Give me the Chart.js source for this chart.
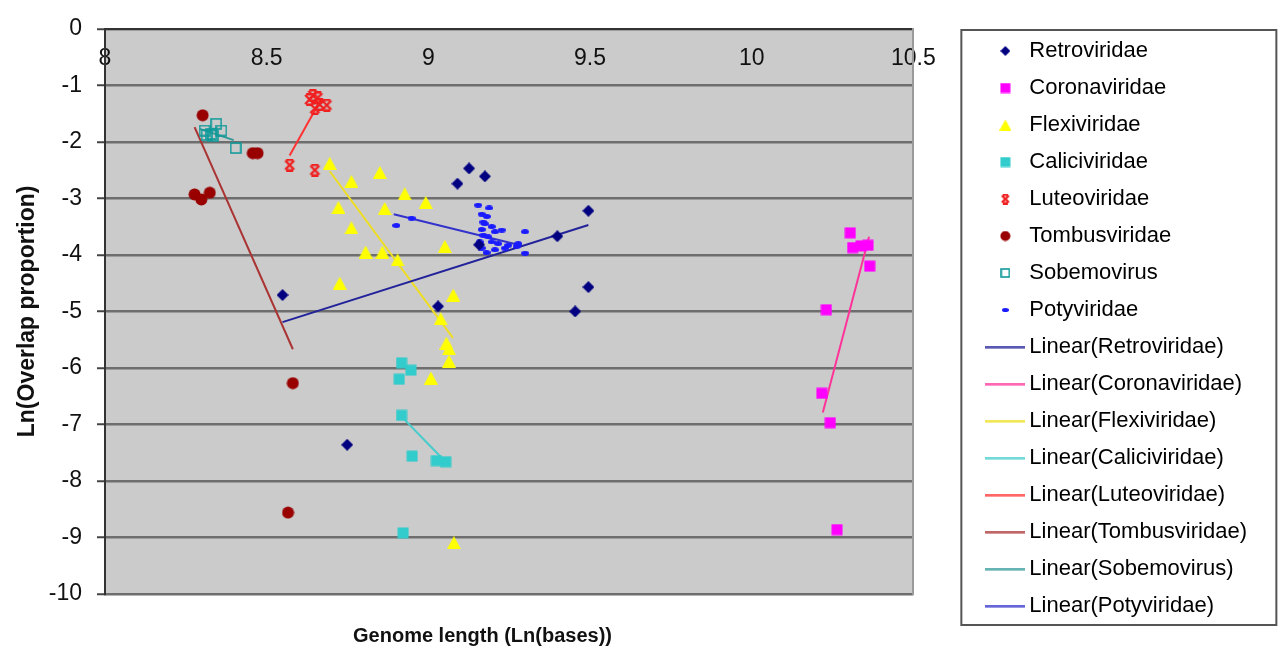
<!DOCTYPE html>
<html>
<head>
<meta charset="utf-8">
<title>Overlap proportion vs genome length</title>
<script src="https://cdn.jsdelivr.net/npm/chart.js@4.4.0/dist/chart.umd.min.js"></script>
<style>
  html, body { margin: 0; padding: 0; background: #fff; }
  #wrap { width: 1278px; height: 652px; }
</style>
</head>
<body>
<div id="wrap"><canvas id="overlapChart" width="1278" height="652"></canvas></div>
<script>
// [Ln(genome length), Ln(overlap proportion)] per virus family
const retroviridae = [[8.549, -4.71], [8.749, -7.36], [9.03, -4.91], [9.09, -2.74], [9.126, -2.47], [9.175, -2.61],
  [9.157, -3.82], [9.399, -3.67], [9.495, -3.22], [9.495, -4.57], [9.454, -5.0]];
const coronaviridae = [[10.305, -3.61], [10.312, -3.87], [10.338, -3.84], [10.36, -3.83], [10.365, -4.2],
  [10.231, -4.97], [10.217, -6.45], [10.243, -6.97], [10.264, -8.86]];
const flexiviridae = [[8.695, -2.38], [8.85, -2.54], [8.762, -2.7], [8.927, -2.92], [8.992, -3.07], [8.722, -3.16],
  [8.865, -3.18], [8.762, -3.52], [9.051, -3.85], [8.806, -3.95], [8.858, -3.95], [8.905, -4.09], [8.726, -4.5],
  [9.077, -4.71], [9.038, -5.13], [9.056, -5.56], [9.064, -5.66], [9.064, -5.88], [9.008, -6.18], [9.079, -9.09]];
const caliciviridae = [[8.917, -5.91], [8.946, -6.04], [8.91, -6.2], [8.917, -6.84], [8.95, -7.56], [9.025, -7.64],
  [9.054, -7.66], [8.922, -8.92]];
const luteoviridae = [[8.571, -2.41], [8.649, -2.5], [8.643, -1.18], [8.658, -1.22], [8.664, -1.34], [8.686, -1.35],
  [8.649, -1.41], [8.633, -1.25]];
const tombusviridae = [[8.302, -1.53], [8.457, -2.2], [8.472, -2.2], [8.277, -2.93], [8.298, -3.02], [8.324, -2.9],
  [8.581, -6.27], [8.566, -8.56]];
const sobemovirus = [[8.308, -1.8], [8.329, -1.86], [8.344, -1.68], [8.36, -1.8], [8.334, -1.89], [8.404, -2.11],
  [8.314, -1.88]];
const potyviridae = [[8.901, -3.48], [8.948, -3.35], [9.154, -3.12], [9.188, -3.17], [9.165, -3.28], [9.181, -3.32],
  [9.17, -3.42], [9.175, -3.45], [9.196, -3.5], [9.165, -3.55], [9.227, -3.56], [9.299, -3.59], [9.206, -3.59],
  [9.17, -3.65], [9.185, -3.68], [9.159, -3.77], [9.196, -3.77], [9.216, -3.8], [9.247, -3.83], [9.273, -3.85],
  [9.18, -3.96], [9.299, -3.97], [9.206, -3.91], [9.237, -3.88], [9.165, -3.88], [9.278, -3.8]];

// linear trend line end points, same family order
const trendRetroviridae = [[8.549, -5.19], [9.495, -3.47]];
const trendCoronaviridae = [[10.22, -6.79], [10.363, -3.68]];
const trendFlexiviridae = [[8.695, -2.52], [9.076, -5.47]];
const trendCaliciviridae = [[8.927, -6.92], [9.041, -7.59]];
const trendLuteoviridae = [[8.571, -2.24], [8.67, -1.23]];
const trendTombusviridae = [[8.277, -1.74], [8.581, -5.67]];
const trendSobemovirus = [[8.293, -1.77], [8.398, -1.97]];
const trendPotyviridae = [[8.893, -3.28], [9.29, -3.84]];

const familyNames = ['Retroviridae', 'Coronaviridae', 'Flexiviridae', 'Caliciviridae',
  'Luteoviridae', 'Tombusviridae', 'Sobemovirus', 'Potyviridae'];
const familyPoints = [retroviridae, coronaviridae, flexiviridae, caliciviridae,
  luteoviridae, tombusviridae, sobemovirus, potyviridae];
const familyTrends = [trendRetroviridae, trendCoronaviridae, trendFlexiviridae, trendCaliciviridae,
  trendLuteoviridae, trendTombusviridae, trendSobemovirus, trendPotyviridae];
const xTicks = { min: 8, max: 10.5, step: 0.5 };
const yTicks = { min: -10, max: 0, step: 1 };

const markerKinds = ['diamond', 'square', 'triangle', 'square', 'star', 'circle', 'openSquare', 'dash'];
const markerColors = ['#000080', '#ff00ff', '#ffff00', '#33cccc', '#f02020', '#990000', '#119999', '#1a1aff'];
const markerSizes = [12, 12, 14, 12, 13, 13, 12, 8];
const legendSizes = [10, 11, 12, 11, 11, 11, 10, 7];
const trendColors = ['#22229a', '#ff3399', '#eedd22', '#44cccc', '#ff3333', '#aa3333', '#339999', '#3333cc'];

const FONT = '"Liberation Sans", Arial, Helvetica, sans-serif';
Chart.defaults.font.family = FONT;
Chart.defaults.color = '#111';

// small canvases used as point styles, so plot and legend share marker shapes
function makeIcon(kind, color, size) {
  const c = document.createElement('canvas');
  let w = size, h = size;
  if (kind === 'dash') { h = Math.round(size * 0.6); }
  if (kind === 'line') { w = 40; h = 3; }
  if (kind === 'triangle') { h = Math.round(size * 0.9); }
  c.width = w; c.height = h;
  const g = c.getContext('2d');
  g.fillStyle = color;
  g.strokeStyle = color;
  g.beginPath();
  switch (kind) {
    case 'diamond':
      g.moveTo(w / 2, 0); g.lineTo(w, h / 2); g.lineTo(w / 2, h); g.lineTo(0, h / 2); g.closePath(); g.fill();
      break;
    case 'square':
      g.fillRect(0.5, 0.5, w - 1, h - 1);
      break;
    case 'triangle':
      g.moveTo(w / 2, 0); g.lineTo(w, h); g.lineTo(0, h); g.closePath(); g.fill();
      break;
    case 'circle':
      g.arc(w / 2, h / 2, w / 2 - 0.5, 0, Math.PI * 2); g.fill();
      break;
    case 'openSquare':
      g.lineWidth = 1.6; g.strokeRect(1, 1, w - 2, h - 2);
      break;
    case 'dash':
      g.ellipse(w / 2, h / 2, w / 2, h / 2, 0, 0, Math.PI * 2); g.fill();
      break;
    case 'star':
      g.lineWidth = 2.4;
      g.moveTo(2, 2); g.lineTo(w - 2, h - 2);
      g.moveTo(w - 2, 2); g.lineTo(2, h - 2);
      g.moveTo(3, 1.2); g.lineTo(w - 3, 1.2);
      g.moveTo(3, h - 1.2); g.lineTo(w - 3, h - 1.2);
      g.stroke();
      break;
    case 'line':
      g.fillRect(0, 0.5, w, 2);
      break;
  }
  return c;
}

const plotIcons = markerKinds.map((k, i) => makeIcon(k, markerColors[i], markerSizes[i]));
const legendIcons = markerKinds.map((k, i) => makeIcon(k, markerColors[i], legendSizes[i]))
  .concat(trendColors.map(c => makeIcon('line', c, 40)));

const toXY = pts => pts.map(([x, y]) => ({ x, y }));

const pointSets = familyNames.map((name, i) => ({
  label: name,
  data: toXY(familyPoints[i]),
  pointStyle: plotIcons[i],
  pointRadius: 6,
  showLine: false,
  xAxisID: 'x',
  yAxisID: 'y'
}));

const trendSets = familyNames.map((name, i) => ({
  label: 'Linear(' + name + ')',
  data: toXY(familyTrends[i]),
  showLine: true,
  borderColor: trendColors[i],
  borderWidth: 2,
  pointRadius: 0,
  xAxisID: 'x',
  yAxisID: 'y'
}));

// grey plot area, legend frame and the x axis title
const chartDecor = {
  id: 'chartDecor',
  beforeDraw(chart) {
    const { ctx, chartArea: a } = chart;
    ctx.save();
    ctx.fillStyle = '#ffffff';
    ctx.fillRect(0, 0, chart.width, chart.height);
    ctx.fillStyle = '#cbcbcb';
    ctx.fillRect(a.left, a.top, a.right - a.left, a.bottom - a.top);
    ctx.restore();
  },
  afterDraw(chart) {
    const { ctx, chartArea: a, legend } = chart;
    ctx.save();
    ctx.strokeStyle = '#555';
    ctx.lineWidth = 2;
    ctx.strokeRect(legend.left - 16, 30, 315, 595);
    ctx.font = 'bold 20px ' + FONT;
    ctx.fillStyle = '#111';
    ctx.textAlign = 'center';
    ctx.textBaseline = 'middle';
    ctx.fillText('Genome length (Ln(bases))', a.left + (a.right - a.left) * 0.467, 636);
    ctx.restore();
  }
};

new Chart(document.getElementById('overlapChart').getContext('2d'), {
  type: 'scatter',
  data: { datasets: pointSets.concat(trendSets) },
  plugins: [chartDecor],
  options: {
    responsive: false,
    animation: false,
    events: [],
    layout: { padding: { top: 5, right: 21, bottom: 0, left: 0 } },
    scales: {
      x: {
        type: 'linear',
        position: 'top',
        min: xTicks.min,
        max: xTicks.max,
        afterFit: s => { s.height = 13; },
        // mirrored labels sit inside the plot, just under the top axis line
        ticks: {
          stepSize: xTicks.step,
          mirror: true,
          padding: 16,
          maxRotation: 0,
          font: { size: 23 },
          color: '#111',
          callback: v => String(v)
        },
        grid: { drawOnChartArea: false, drawTicks: false },
        border: { color: '#333', width: 2 }
      },
      xb: {
        type: 'linear',
        position: 'bottom',
        min: xTicks.min,
        max: xTicks.max,
        afterFit: s => { s.height = 58; },
        ticks: { display: false },
        grid: { display: false },
        border: { display: false }
      },
      y: {
        type: 'linear',
        position: 'left',
        min: yTicks.min,
        max: yTicks.max,
        afterFit: s => { s.width = 105; },
        ticks: { stepSize: yTicks.step, padding: 15, font: { size: 23 }, color: '#111' },
        grid: { color: '#6e6e6e', lineWidth: 2.5, tickLength: 8, tickColor: '#444', tickWidth: 2 },
        border: { color: '#333', width: 2 },
        title: {
          display: true,
          text: 'Ln(Overlap proportion)',
          color: '#111',
          font: { size: 23, weight: 'bold' },
          padding: { top: 14, bottom: 0 }
        }
      },
      yr: {
        type: 'linear',
        position: 'right',
        min: yTicks.min,
        max: yTicks.max,
        afterFit: s => { s.width = 64; },
        ticks: { display: false },
        grid: { drawOnChartArea: false, drawTicks: false },
        border: { color: '#9a9a9a', width: 2 }
      }
    },
    plugins: {
      tooltip: { enabled: false },
      legend: {
        position: 'right',
        align: 'center',
        maxWidth: 320,
        labels: {
          usePointStyle: true,
          pointStyleWidth: 26,
          padding: 15,
          font: { size: 22 },
          color: '#111',
          generateLabels: chart => chart.data.datasets.map((ds, i) => ({
            text: ds.label,
            pointStyle: legendIcons[i],
            fillStyle: 'rgba(0,0,0,0)',
            strokeStyle: 'rgba(0,0,0,0)',
            lineWidth: 0,
            hidden: false,
            datasetIndex: i
          }))
        }
      }
    }
  }
});
</script>
</body>
</html>
